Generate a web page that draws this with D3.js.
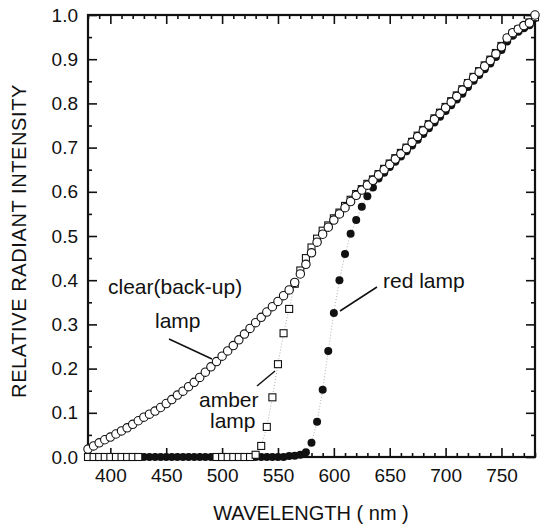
<!DOCTYPE html>
<html>
<head>
<meta charset="utf-8">
<script src="https://cdn.jsdelivr.net/npm/d3@7"></script>
<style>
  body { margin: 0; background: #fff; }
  svg { display: block; font-family: "Liberation Sans", Arial, sans-serif; }
  .axis text { font-size: 19px; fill: #111; }
  .axis line { stroke: #111; stroke-width: 1.6px; }
  .axis path { display: none; }
</style>
</head>
<body>
<div id="chart"></div>
<script>
const margin = {top: 15, right: 15, bottom: 75, left: 88};

const WIDTH = 550;
const HEIGHT = 532;

const width = WIDTH - margin.left - margin.right;
const height = HEIGHT - margin.top - margin.bottom;

// tick values
const xTicks = [400, 450, 500, 550, 600, 650, 700, 750];
const yTicks = [0, 0.1, 0.2, 0.3, 0.4, 0.5, 0.6, 0.7, 0.8, 0.9, 1.0];

// clear (back-up) lamp, open circles
const clearNm = [380, 385, 390, 395, 400, 405, 410, 415, 420, 425,
                 430, 435, 440, 445, 450, 455, 460, 465, 470, 475,
                 480, 485, 490, 495, 500, 505, 510, 515, 520, 525,
                 530, 535, 540, 545, 550, 555, 560, 565, 570, 575,
                 580, 585, 590, 595, 600, 605, 610, 615, 620, 625,
                 630, 635, 640, 645, 650, 655, 660, 665, 670, 675,
                 680, 685, 690, 695, 700, 705, 710, 715, 720, 725,
                 730, 735, 740, 745, 750, 755, 760, 765, 770, 775, 780];
const clearVal = [.018, .025, .032, .039, .045, .052, .059, .066, .074, .082,
                  .090, .097, .104, .112, .121, .130, .140, .149, .159, .169,
                  .180, .192, .204, .216, .228, .240, .252, .265, .278, .291,
                  .304, .316, .328, .340, .352, .365, .378, .395, .414, .436,
                  .462, .486, .504, .520, .536, .550, .564, .578, .592, .604,
                  .615, .626, .638, .650, .662, .674, .686, .698, .712, .725,
                  .738, .751, .764, .777, .790, .803, .816, .830, .845, .858,
                  .871, .884, .897, .912, .928, .948, .960, .968, .976, .982, 1.0];

// amber lamp, open squares
const amberNm = [380, 385, 390, 395, 400, 405, 410, 415, 420, 425,
                 495, 500, 505, 510, 515, 520, 525,
                 530, 535, 540, 545, 550, 555, 560, 565, 570, 575,
                 580, 585, 590, 595, 600, 605, 610, 615, 620, 625,
                 630, 635, 640, 645, 650, 655, 660, 665, 670, 675,
                 680, 685, 690, 695, 700, 705, 710, 715, 720, 725,
                 730, 735, 740, 745, 750, 755, 760, 765, 770, 775, 780];
const amberVal = [0, 0, 0, 0, 0, 0, 0, 0, 0, 0,
                  0, 0, 0, 0, 0, 0, 0,
                  .005, .025, .068, .135, .210, .280, .335, .392, .422, .450,
                  .474, .494, .512, .524, .540, .553, .568, .582, .595, .606,
                  .618, .628, .640, .652, .664, .676, .688, .700, .713, .727,
                  .740, .753, .766, .779, .792, .805, .818, .832, .846, .860,
                  .873, .886, .899, .914, .930, .946, .958, .967, .975, .983, .995];

// red lamp, filled circles
const redNm = [430, 435, 440, 445, 450, 455, 460, 465, 470, 475, 480, 485, 490,
               530, 535, 540, 545, 550, 555, 560, 565, 570, 575,
               580, 585, 590, 595, 600, 605, 610, 615, 620, 625,
               630, 635, 640, 645, 650, 655, 660, 665, 670, 675,
               680, 685, 690, 695, 700, 705, 710, 715, 720, 725,
               730, 735, 740, 745, 750, 755, 760, 765, 770, 775, 780];
const redVal = [0, 0, 0, 0, 0, 0, 0, 0, 0, 0, 0, 0, 0,
                0, 0, 0, 0, 0, 0, .002, .003, .005, .011,
                .032, .080, .152, .240, .326, .400, .459, .505, .536, .566,
                .590, .610, .630, .643, .656, .668, .680, .692, .705, .718,
                .731, .744, .757, .770, .783, .796, .809, .822, .837, .851,
                .864, .877, .890, .905, .921, .940, .953, .962, .970, .977, .993];

const toPoints = (nm, val) => nm.map((d, i) => ({nm: d, v: val[i]}));
const clearData = toPoints(clearNm, clearVal);
const amberData = toPoints(amberNm, amberVal);
const redData = toPoints(redNm, redVal);

const svg = d3.select('#chart')
    .append('svg')
        .attr('width', WIDTH)
        .attr('height', HEIGHT);

const g = svg.append('g')
        .attr('transform', `translate(${margin.left},${margin.top})`);

const x = d3.scaleLinear()
            .domain([380, 780])
            .range([0, width]);

const y = d3.scaleLinear()
            .domain([0, 1])
            .range([height, 0]);

const xMinor = d3.range(380, 781, 10).filter(d => d % 50 !== 0);
const yMinor = d3.range(0.05, 1, 0.1);

// major ticks, pointing inward on all four sides
g.append('g')
    .attr('class', 'axis')
    .attr('transform', `translate(0,${height})`)
    .call(d3.axisBottom(x).tickValues(xTicks).tickSize(-9).tickPadding(12));

g.append('g')
    .attr('class', 'axis')
    .call(d3.axisTop(x).tickValues(xTicks).tickSize(-9).tickFormat(''));

g.append('g')
    .attr('class', 'axis')
    .call(d3.axisLeft(y).tickValues(yTicks).tickSize(-9).tickPadding(10).tickFormat(d3.format('.1f')));

g.append('g')
    .attr('class', 'axis')
    .attr('transform', `translate(${width},0)`)
    .call(d3.axisRight(y).tickValues(yTicks).tickSize(-9).tickFormat(''));

// minor ticks
g.append('g')
    .attr('class', 'axis')
    .attr('transform', `translate(0,${height})`)
    .call(d3.axisBottom(x).tickValues(xMinor).tickSize(-4).tickFormat(''));

g.append('g')
    .attr('class', 'axis')
    .call(d3.axisTop(x).tickValues(xMinor).tickSize(-4).tickFormat(''));

g.append('g')
    .attr('class', 'axis')
    .call(d3.axisLeft(y).tickValues(yMinor).tickSize(-4).tickFormat(''));

g.append('g')
    .attr('class', 'axis')
    .attr('transform', `translate(${width},0)`)
    .call(d3.axisRight(y).tickValues(yMinor).tickSize(-4).tickFormat(''));

// frame
g.append('rect')
    .attr('width', width)
    .attr('height', height)
    .attr('fill', 'none')
    .attr('stroke', '#111')
    .attr('stroke-width', 2.2);

// faint dotted connecting lines
const line = d3.line().x(d => x(d.nm)).y(d => y(d.v));

g.append('path')
    .datum(redData.filter(d => d.nm >= 570))
    .attr('d', line)
    .attr('fill', 'none')
    .attr('stroke', '#999')
    .attr('stroke-width', 0.8)
    .attr('stroke-dasharray', '1,2');

g.append('path')
    .datum(amberData.filter(d => d.nm >= 530))
    .attr('d', line)
    .attr('fill', 'none')
    .attr('stroke', '#999')
    .attr('stroke-width', 0.8)
    .attr('stroke-dasharray', '1,2');

// red lamp
g.selectAll('.red')
    .data(redData)
    .enter()
    .append('circle')
    .attr('class', 'red')
    .attr('cx', d => x(d.nm))
    .attr('cy', d => y(d.v))
    .attr('r', 4)
    .attr('fill', '#111');

// amber lamp
const sq = 7;
g.selectAll('.amber')
    .data(amberData)
    .enter()
    .append('rect')
    .attr('class', 'amber')
    .attr('x', d => x(d.nm) - sq / 2)
    .attr('y', d => y(d.v) - sq / 2)
    .attr('width', sq)
    .attr('height', sq)
    .attr('fill', '#fff')
    .attr('stroke', '#111')
    .attr('stroke-width', 1.1);

// clear lamp
g.selectAll('.clear')
    .data(clearData)
    .enter()
    .append('circle')
    .attr('class', 'clear')
    .attr('cx', d => x(d.nm))
    .attr('cy', d => y(d.v))
    .attr('r', 4.2)
    .attr('fill', '#fff')
    .attr('stroke', '#111')
    .attr('stroke-width', 1.1);

// annotations
const note = (tx, ty, str, anchor) => svg.append('text')
    .attr('x', tx)
    .attr('y', ty)
    .attr('text-anchor', anchor || 'start')
    .style('font-size', '21px')
    .style('fill', '#111')
    .text(str);

note(108, 294, 'clear(back-up)');
note(155, 328, 'lamp');
note(199, 407, 'amber');
note(210, 428, 'lamp');
note(383, 288, 'red lamp');

const leader = (x1, y1, x2, y2) => svg.append('line')
    .attr('x1', x1).attr('y1', y1)
    .attr('x2', x2).attr('y2', y2)
    .attr('stroke', '#111')
    .attr('stroke-width', 1.5);

leader(169, 339, 212, 359);
leader(257, 386, 275, 371);
leader(340, 311, 377, 287);

// axis titles
svg.append('text')
    .attr('x', 311)
    .attr('y', 520)
    .attr('text-anchor', 'middle')
    .style('font-size', '20px')
    .style('fill', '#111')
    .text('WAVELENGTH ( nm )');

svg.append('text')
    .attr('transform', 'translate(26,241) rotate(-90)')
    .attr('text-anchor', 'middle')
    .style('font-size', '20px')
    .style('letter-spacing', '0.6px')
    .style('fill', '#111')
    .text('RELATIVE RADIANT INTENSITY');
</script>
</body>
</html>
